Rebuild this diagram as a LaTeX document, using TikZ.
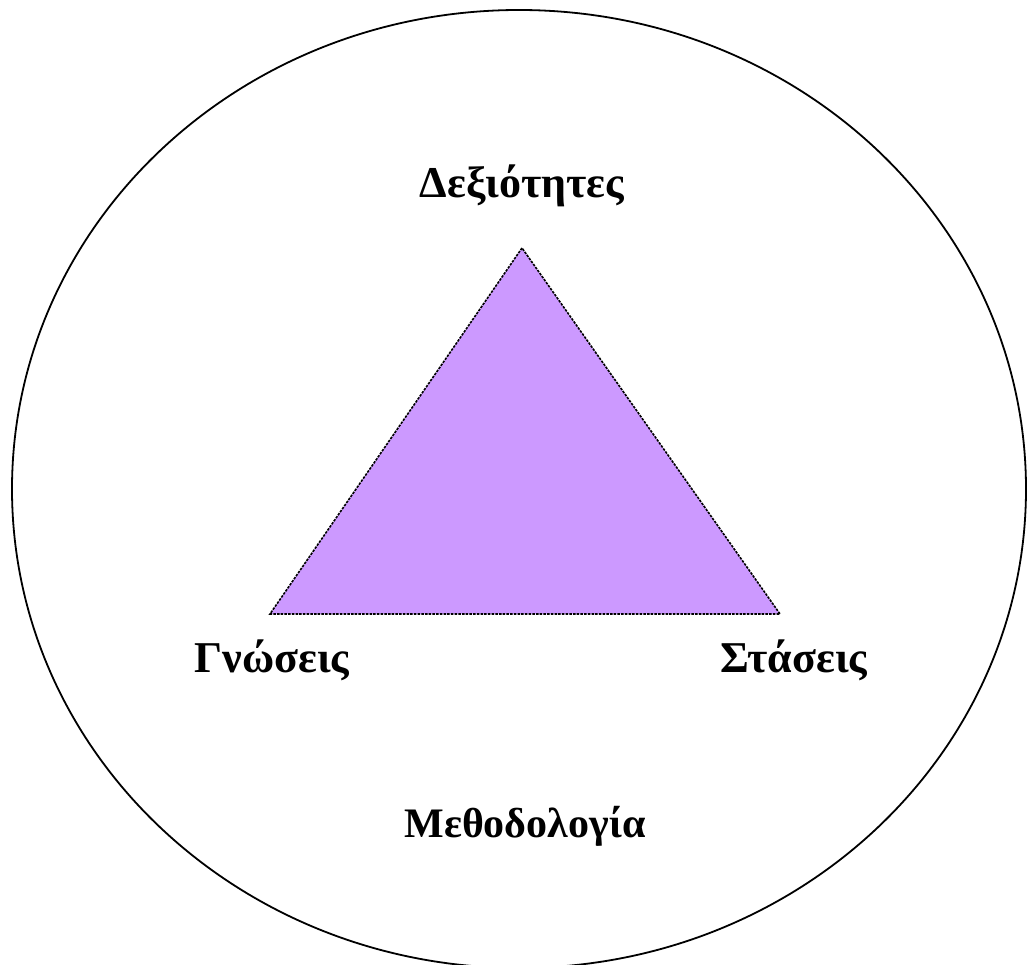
\documentclass[tikz,border=0pt]{standalone}
\usepackage{fontspec}
\setmainfont{Liberation Serif}
\usepackage{tikz}
\usetikzlibrary{
    positioning,
    calc
}
\usepackage{xcolor}
\definecolor{lilas}{HTML}{CC99FF}

\begin{document}
\begin{tikzpicture}[
    x=1pt, y=-1pt,
    every node/.style={font=\fontsize{44}{50}\selectfont\bfseries},
    rotulo/.style={
        inner sep=0pt,
        anchor=center
    },
    borda/.style={
        line width=1.6pt,
        dash pattern=on 2.5pt off 1.2pt
    },
    contorno/.style={
        line width=1.8pt
    }
]

\useasboundingbox (0,0) rectangle (1031,965);
\clip (0,0) rectangle (1031,965);

\coordinate (topo) at (522,248);
\coordinate (esq) at (270,614);
\coordinate (dir) at (780,614);

\fill[lilas] (topo) -- (esq) -- (dir) -- cycle;
\draw[borda] (topo) -- (esq) -- (dir) -- cycle;

\draw[contorno] (519,489) ellipse [x radius=507, y radius=479];

\node[rotulo] (habilidades) at (522,186) {Δεξιότητες};
\node[rotulo] (gnoseis) at (272,660) {Γνώσεις};
\node[rotulo] (staseis) at (794,660) {Στάσεις};
\node[rotulo, font=\fontsize{42}{50}\selectfont\bfseries] (metodologia) at (525,826) {Μεθοδολογία};

\end{tikzpicture}
\end{document}
